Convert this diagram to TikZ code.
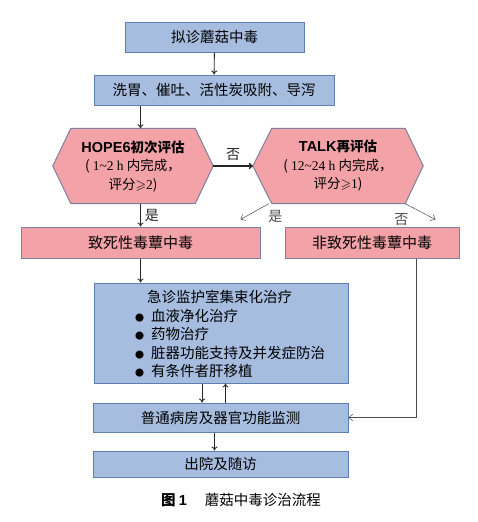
\documentclass[tikz,border=0pt]{standalone}
\usepackage{amsmath,amssymb}
\usepackage{fontspec}
\setmainfont{Liberation Serif}
\setsansfont{Liberation Sans}
\newfontfamily\cjk{Noto Sans CJK SC}
\usetikzlibrary{arrows.meta,backgrounds,calc,positioning}
\definecolor{boxblue}{HTML}{A6BDE0}
\definecolor{blueline}{HTML}{5F7FB4}
\definecolor{boxpink}{HTML}{F3A2A7}
\definecolor{pinkline}{HTML}{7E80A0}
\newcommand\bul{{\fontsize{9}{9}\selectfont ●}\hspace{7pt}}

\tikzset{
  bluebox/.style={draw=blueline, fill=boxblue, line width=1pt, inner sep=0pt,
    font=\cjk\fontsize{14.5}{17}\selectfont},
  pinkbox/.style={draw=pinkline, fill=boxpink, line width=1pt, inner sep=0pt,
    font=\cjk\fontsize{15}{17}\selectfont},
  hexbox/.style={inner sep=0pt, minimum height=75, align=center,
    font=\cjk\fontsize{13.5}{18.5}\selectfont},
  hexline/.style={draw=pinkline, fill=boxpink, line width=1pt},
  flow/.style={-{To[length=4pt,width=6pt]}, line width=0.9pt, black!85},
  thinflow/.style={-{Straight Barb[length=4pt,width=7pt]}, line width=0.5pt, black!70},
  lbl/.style={font=\cjk\fontsize{14}{14}\selectfont, inner sep=1pt},
}

\begin{document}
\begin{tikzpicture}[x=1pt, y=-1pt]
  \useasboundingbox (0,0) rectangle (478,522);

  % boxes
  \node[bluebox, minimum width=179, minimum height=30] (suspect) at (214.5,37) {拟诊蘑菇中毒};
  \node[bluebox, minimum width=240, minimum height=30] (wash) at (214,90) {洗胃、催吐、活性炭吸附、导泻};

  % the two assessments
  \node[hexbox, minimum width=160] (hope) at (133,166)
    {{\bfseries\sffamily\fontsize{14.5}{18.5}\selectfont HOPE6}{\bfseries 初次评估}\\
     ( {\rmfamily 1\textasciitilde 2 h} 内完成，\\ 评分$\geqslant${\rmfamily 2})};
  \node[hexbox, minimum width=170] (talk) at (338,166)
    {{\bfseries\sffamily\fontsize{14.5}{18.5}\selectfont TALK}{\bfseries 再评估}\\
     ( {\rmfamily 12\textasciitilde 24 h} 内完成，\\ 评分$\geqslant${\rmfamily 1})};
  \begin{pgfonlayer}{background}
    \draw[hexline] (hope.west) -- ([xshift=18pt]hope.north west) -- ([xshift=-18pt]hope.north east)
      -- (hope.east) -- ([xshift=-18pt]hope.south east) -- ([xshift=18pt]hope.south west) -- cycle;
    \draw[hexline] (talk.west) -- ([xshift=19pt]talk.north west) -- ([xshift=-18pt]talk.north east)
      -- (talk.east) -- ([xshift=-18pt]talk.south east) -- ([xshift=19pt]talk.south west) -- cycle;
  \end{pgfonlayer}

  \node[pinkbox, minimum width=239, minimum height=31] (lethal) at (140.5,242.5) {致死性毒蕈中毒};
  \node[pinkbox, minimum width=174, minimum height=31] (nonlethal) at (372,242.5) {非致死性毒蕈中毒};

  \node[bluebox, minimum width=254, minimum height=100] (icu) at (221,333) {};
  \node[font=\cjk\fontsize{14.5}{18.5}\selectfont, align=left, inner sep=0pt, anchor=west] (icutxt) at (135,334)
    {\hspace{12pt}急诊监护室集束化治疗\\ \bul 血液净化治疗\\ \bul 药物治疗\\
     \bul 脏器功能支持及并发症防治\\ \bul 有条件者肝移植};
  \node[bluebox, minimum width=255, minimum height=29] (ward) at (220.5,417.5) {普通病房及器官功能监测};
  \node[bluebox, minimum width=255, minimum height=26] (discharge) at (220.5,464) {出院及随访};

  % connectors
  \draw[flow] (suspect) -- (wash);
  \draw[flow] (wash.south -| lethal.north) -- (hope.north -| lethal.north);
  \draw[flow, line width=1.4pt] (hope.east) -- (talk.west) node[lbl, midway, above=4pt] {否};
  \draw[flow] (hope.south -| lethal.north) -- (lethal.north) node[lbl, midway, right=3pt] {是};
  \draw[thinflow] ([xshift=16pt]talk.south west) -- ([xshift=-20pt,yshift=7pt]lethal.north east)
    node[lbl, pos=0.2, below right=2pt and 4pt] {是};
  \draw[thinflow] ([xshift=-18pt]talk.south east) -- ([xshift=-24pt,yshift=7pt]nonlethal.north east)
    node[lbl, pos=0.15, below left=6pt and 0pt] {否};
  \draw[flow] (lethal.south) -- (icu.north -| lethal.south);
  \draw[flow] ([xshift=-19pt]icu.south) -- ([xshift=-19pt]icu.south |- ward.north);
  \draw[flow] ([xshift=5pt]ward.north) -- ([xshift=5pt]ward.north |- icu.south);
  \draw[thinflow] ([xshift=44pt]nonlethal.south) |- (ward.east);
  \draw[flow] ([xshift=-6pt]ward.south) -- ([xshift=-6pt]discharge.north);

  % caption
  \node[font=\cjk\fontsize{14.5}{17}\selectfont] (caption) at (241,500)
    {{\bfseries 图 \sffamily 1}\hspace{18pt}蘑菇中毒诊治流程};
\end{tikzpicture}
\end{document}
